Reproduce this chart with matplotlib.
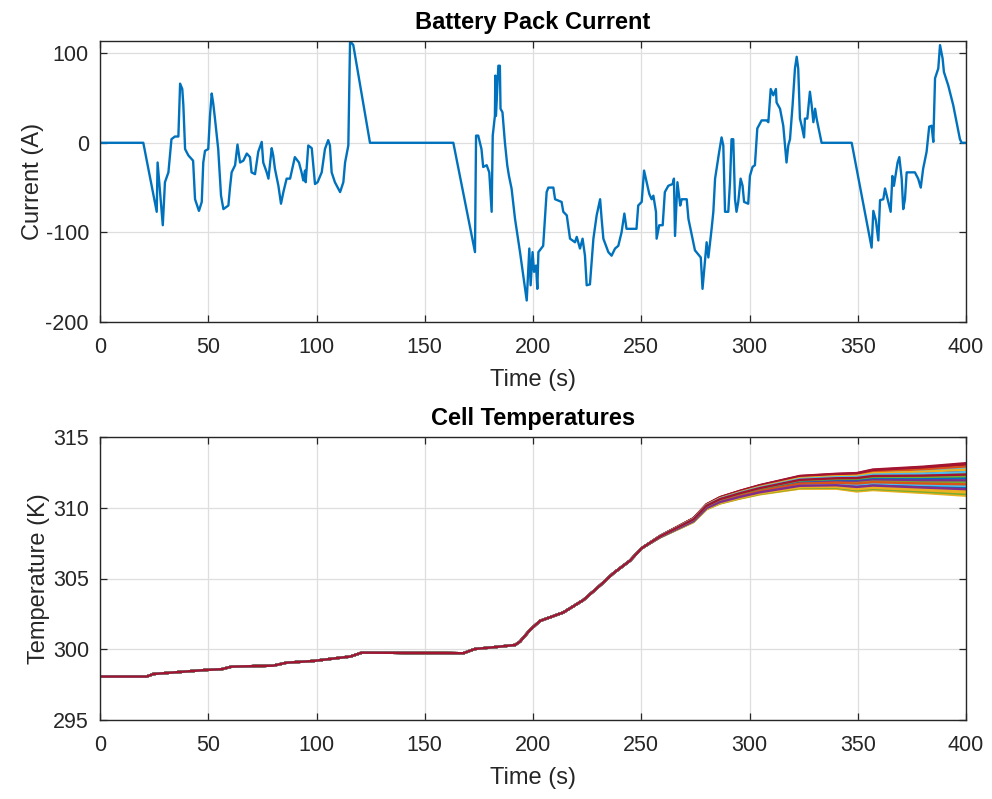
import numpy as np
import matplotlib
matplotlib.use("Agg")
import matplotlib.pyplot as plt

plt.rcParams['font.family'] = ['Liberation Sans', 'DejaVu Sans']
plt.rcParams['axes.unicode_minus'] = False

# ---------------- Data ----------------
t_cur = [0, 20, 26.2, 26.6, 29, 30, 31.6, 33, 34.6, 36.2, 37, 38, 38.5, 39.3, 40.8, 43, 43.9, 45.7, 47,
         47.7, 48.5, 50, 50.8, 51.6, 52.3, 53.1, 54.6, 55.9, 57, 59.3, 60, 60.8, 62.4, 63.5, 64.7, 66.2,
         67.8, 69.3, 70, 71.6, 73.1, 74.7, 75.4, 77, 77.8, 79.3, 80, 80.8, 82.4, 83.6, 84.7, 86.2, 87.8,
         90, 91.9, 93.1, 93.9, 94.7, 95, 96.2, 97.8, 99.3, 100.5, 102.4, 103.9, 105.4, 106.2, 107, 108.5,
         110.9, 112.4, 113.2, 114.7, 115.5, 117, 124.7, 163.2, 173.2, 173.7, 174.7, 176.2, 177, 178.6,
         179.8, 180.9, 181.4, 182.4, 182.6, 182.9, 184, 184.7, 185, 185.9, 187, 188.1, 188.9, 190.1,
         191.7, 194, 197.1, 198.3, 198.9, 199.8, 200.5, 201.4, 202, 202.5, 204.7, 206.3, 207.1, 209.4,
         210.2, 213.2, 214, 215.6, 217.1, 219.4, 220.2, 221.7, 222.9, 224, 224.8, 226.3, 227.9, 229.4,
         231, 231.7, 232.5, 234.8, 236.3, 237.9, 239.4, 240.9, 242.2, 243.2, 247.8, 248.6, 250.2, 251.3,
         252.5, 253.7, 254.8, 255.6, 256.8, 257.1, 258.3, 259.9, 260.9, 262.5, 264.5, 265.1, 265.6,
         266.7, 268, 268.7, 271, 271.8, 274.8, 277.5, 278.3, 279.4, 280.2, 281, 281.8, 282.5, 283.3,
         284.1, 284.8, 286, 287.1, 287.9, 288.7, 290.2, 291, 291.7, 292.5, 293.3, 294, 294.8, 295.9,
         296.8, 297.5, 299.4, 300.2, 301.4, 302.5, 303.6, 305.6, 307.9, 308.7, 309.8, 311, 312.2, 312.5,
         314.1, 315.6, 317.1, 317.9, 318.7, 319.9, 321, 321.8, 322.5, 323.3, 324.1, 325.2, 325.6, 326.7,
         327.9, 328.7, 329.5, 330.3, 331, 333.3, 347.2, 356.4, 357.2, 358.4, 359.5, 360.3, 361.8, 362.6,
         364.1, 365.2, 366, 366.7, 367.7, 368.4, 369.2, 370.3, 371, 371.8, 372.6, 376.4, 377.9, 379.1,
         380.2, 381.8, 383, 384.1, 384.9, 385.7, 387.2, 388, 389.2, 389.8, 391.8, 394.1, 397.2, 398, 400]
i_cur = [0, 0, -77, -22, -92, -44, -33, 4, 7, 7, 66, 60, 42, -7, -14, -20, -63, -76, -66,
         -22, -9, -7, 30, 55, 44, 27, -7, -59, -74, -70, -51, -33, -25, -2, -22, -20,
         -12, -16, -33, -35, -10, 1, -22, -33, -40, -6, -14, -29, -48, -68, -55, -40, -40,
         -16, -22, -33, -42, -31, -44, -3, -6, -46, -44, -33, -7, 3, -3, -33, -44,
         -55, -44, -22, -3, 113.6, 109, 0, 0, -122, 8, 8, -7, -27, -25,
         -33, -77, 8, 30, 75, 30, 86, 86, 38, 34, 1, -25, -37, -51,
         -85, -122, -176, -118, -159, -122, -144, -137, -163, -122, -115, -55, -50, -50,
         -63, -66, -77, -81, -107, -111, -105, -118, -107, -126, -159, -158, -107, -81,
         -63, -85, -107, -122, -126, -118, -115, -100, -79, -96, -96, -70, -66, -31,
         -44, -57, -63, -59, -77, -107, -92, -92, -55, -48, -46, -40, -104,
         -44, -70, -63, -63, -85, -120, -128, -163, -133, -111, -128, -111, -96, -77,
         -40, -29, -10, 6, -3, -77, -77, -44, 4, 4, -63, -77, -66, -40,
         -48, -66, -68, -37, -27, -25, 16, 25, 25, 23, 60, 53, 60, 45,
         38, 19, -22, -3, 4, 42, 83, 96, 83, 27, 19, 6, 27, 27,
         57, 42, 23, 38, 27, 0, 0, -117, -76, -87, -109, -64, -63, -51,
         -66, -77, -37, -48, -33, -22, -16, -40, -74, -63, -33, -33, -40, -50,
         -29, -10, 18, 19, 1, 72, 83, 109, 94, 79, 64, 42, 4, 0, 0]

t_temp = [0, 21.6, 24.6, 49.3, 56.2, 60.8, 80, 86.2, 98.5, 110.9, 115.5, 120.9, 167.8, 173.2,
          181.7, 191.7, 194, 198.6, 203.2, 207.9, 214, 223.3, 230.9, 237.1, 244.8, 250.2, 258.7,
          266.4, 274.1, 280.2, 286.4, 295.6, 304.8, 323.3, 340, 349.5, 357, 380, 400]
temp_mid = [298.07, 298.07, 298.25, 298.54, 298.59, 298.77, 298.84, 299.05, 299.17, 299.40,
            299.48, 299.76, 299.72, 300.02, 300.14, 300.30, 300.54, 301.36, 302.0, 302.26,
            302.6, 303.48, 304.5, 305.37, 306.26, 307.14, 307.96, 308.55, 309.14, 310.1,
            310.55, 310.95, 311.3, 311.85, 311.95, 311.95, 312.05, 312.0, 312.0]
spread_hi = [0] * 26 + [0.05, 0.08, 0.12, 0.15, 0.2, 0.25, 0.3, 0.4, 0.45, 0.5, 0.65, 0.9, 1.15]
spread_lo = [0] * 26 + [0.05, 0.1, 0.15, 0.2, 0.25, 0.3, 0.35, 0.5, 0.6, 0.8, 0.8, 0.95, 1.15]
cell_pos = [0.35, -0.6, -1.0, 0.1, -0.3, -0.85, 0.75,
            -0.15, 0.55, -0.95, 0.2, -0.45, 0.9, 0.6,
            -0.7, 0.05, -0.25, 0.4, -0.9, 0.0, 0.85,
            -0.5, 0.3, -0.8, 0.65, -0.1, 0.15, 1.0,
            -0.35, 0.45, -0.65, 0.25, -0.2, 0.7, 0.5,
            -0.55, 0.8, -0.75, -0.05, 0.35, -0.4, 0.95,
            0.1, -0.3, 0.6, -0.6, 0.2, 0.45, 0.3]

matlab_colors = ['#0072BD', '#D95319', '#EDB120', '#7E2F8E', '#77AC30', '#4DBEEE', '#A2142F']

# ---------------- Figure ----------------
fig = plt.figure(figsize=(9.92, 7.99), dpi=100)
W, H = 992, 799
ax1 = fig.add_axes([100 / W, 1 - 322 / H, 866 / W, 281 / H])
ax2 = fig.add_axes([100 / W, 1 - 720 / H, 866 / W, 283 / H])

axc = '#262626'
for ax in (ax1, ax2):
    ax.set_xlim(0, 400)
    ax.set_xticks(np.arange(0, 401, 50))
    ax.grid(True, color='#dedede', linewidth=0.9)
    ax.set_axisbelow(True)
    ax.tick_params(direction='in', length=5, width=0.9, top=True, right=True,
                   labelsize=15.5, colors=axc)
    ax.tick_params(axis='x', pad=11)
    ax.tick_params(axis='y', pad=8)
    for s in ax.spines.values():
        s.set_color(axc)
        s.set_linewidth(1.0)
    ax.set_xlabel('Time (s)', fontsize=17, color=axc, labelpad=8)

ax1.plot(t_cur, i_cur, color='#0072BD', linewidth=1.7)
ax1.set_ylim(-200, 113.6)
ax1.set_yticks([-200, -100, 0, 100])
ax1.set_ylabel('Current (A)', fontsize=17, color=axc, labelpad=1)
ax1.set_title('Battery Pack Current', fontsize=17, fontweight='bold', color='black', pad=9)

mid = np.array(temp_mid)
hi = np.array(spread_hi)
lo = np.array(spread_lo)
for k, p in enumerate(cell_pos):
    vals = mid + (p * hi if p > 0 else p * lo)
    ax2.plot(t_temp, vals, color=matlab_colors[k % 7], linewidth=1.7)
ax2.set_ylim(295, 315)
ax2.set_yticks([295, 300, 305, 310, 315])
ax2.set_ylabel('Temperature (K)', fontsize=17, color=axc, labelpad=2)
ax2.set_title('Cell Temperatures', fontsize=17, fontweight='bold', color='black', pad=9)

fig.savefig('out.png', dpi=100)
